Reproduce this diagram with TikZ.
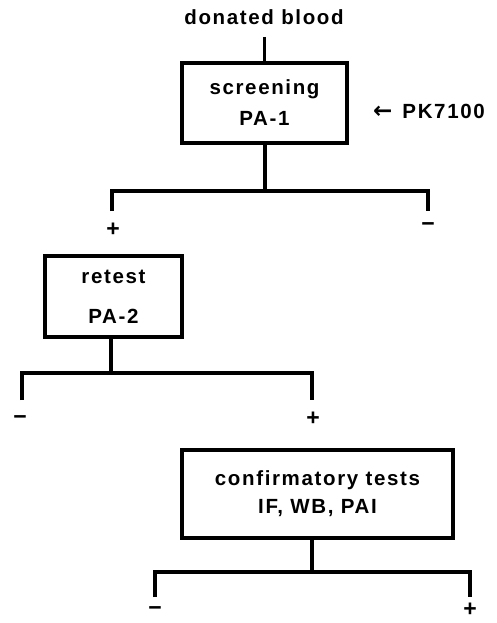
\documentclass[tikz,border=0pt]{standalone}
\usepackage{fontspec}
\setmainfont[LetterSpace=8]{Liberation Sans Bold}
\newfontfamily\symfont{DejaVu Sans Bold}
\begin{document}
\begin{tikzpicture}[x=1pt,y=-1pt,
  every node/.style={font=\fontsize{20.5}{23}\selectfont, inner sep=0pt},
  testbox/.style={draw, line width=3.4pt, align=center, anchor=center},
  link/.style={line width=3.4pt},
  sign/.style={font=\fontsize{23}{23}\selectfont}]
\useasboundingbox (0,0) rectangle (497,623);
% top
\node (donated) at (264,17) {donated blood};
\node[testbox, minimum width=165pt, minimum height=80pt] (screen) at (264.5,103) {screening\\[8pt]PA-1};
\node[anchor=west] (pk) at (373,111) {{\symfont\fontsize{23}{23}\selectfont ←}\hspace{10pt}PK7100};
\coordinate (d0) at (264.5,37);
\draw[link] (d0) -- (screen.north);
% branch 1
\coordinate (j1) at (265,191);
\coordinate (j1l) at (112,191);
\coordinate (j1r) at (428,191);
\coordinate (e1l) at (112,211);
\coordinate (e1r) at (428,211);
\draw[link] (screen.south -| j1) -- (j1);
\draw[link] (e1l) -- (j1l) -- (j1r) -- (e1r);
\node[sign] (p1) at (113,230) {+};
\node[sign] (m1) at (428,227) {−};
% retest
\node[testbox, minimum width=137pt, minimum height=81pt] (retest) at (113.5,296.5) {retest\\[17pt]PA-2};
\coordinate (j2) at (111,373);
\coordinate (j2l) at (22,373);
\coordinate (j2r) at (312,373);
\coordinate (e2l) at (22,400);
\coordinate (e2r) at (312,400);
\draw[link] (retest.south -| j2) -- (j2);
\draw[link] (e2l) -- (j2l) -- (j2r) -- (e2r);
\node[sign] (m2) at (20,420) {−};
\node[sign] (p2) at (313,419) {+};
% confirmatory
\node[testbox, minimum width=271pt, minimum height=88pt] (confirm) at (317.5,494) {confirmatory tests\\[5pt]IF, WB, PAI};
\coordinate (j3) at (312,572);
\coordinate (j3l) at (155,572);
\coordinate (j3r) at (470,572);
\coordinate (e3l) at (155,597);
\coordinate (e3r) at (470,597);
\draw[link] (confirm.south -| j3) -- (j3);
\draw[link] (e3l) -- (j3l) -- (j3r) -- (e3r);
\node[sign] (m3) at (155,611) {−};
\node[sign] (p3) at (470,610) {+};
\end{tikzpicture}
\end{document}
